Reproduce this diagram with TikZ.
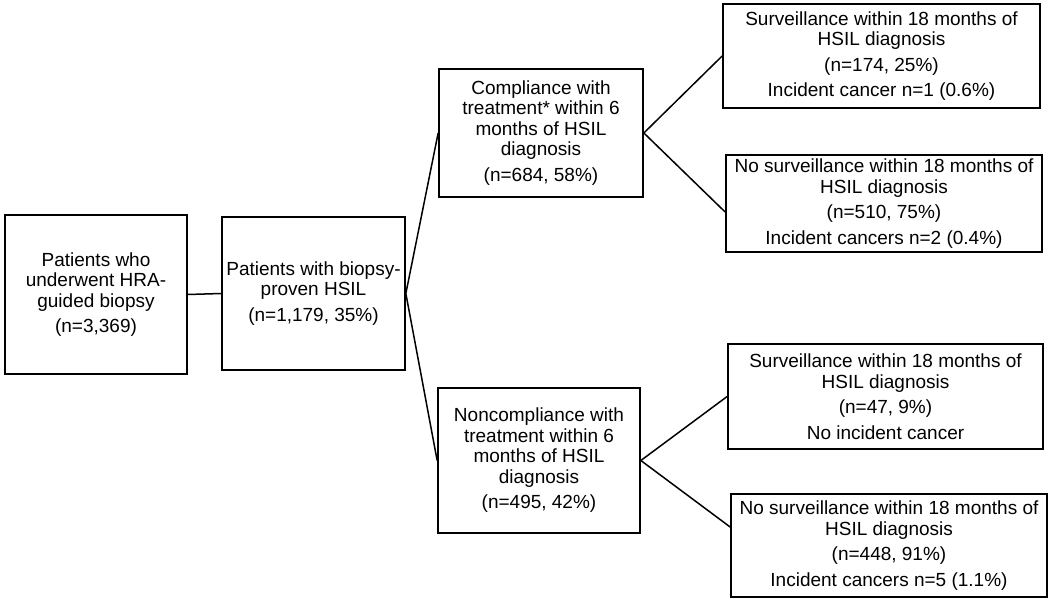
\documentclass[tikz,border=0pt]{standalone}
\usepackage{fontspec}
\setmainfont{Liberation Sans}
\begin{document}
\begin{tikzpicture}[x=1pt,y=-1pt,
  box/.style={draw=black, line width=1.7pt, fill=white, align=center, inner sep=0pt,
    font=\fontsize{19}{20.5}\selectfont},
  link/.style={draw=black, line width=1.5pt}]
\useasboundingbox (0,0) rectangle (1050,604);
\node[box, minimum width=182pt, minimum height=159pt] (A) at (96,294.5)
  {Patients who\\underwent HRA-\\guided biopsy\\[5pt](n=3,369)};
\node[box, minimum width=183pt, minimum height=153pt] (B) at (313.5,293.5)
  {Patients with biopsy-\\proven HSIL\\[5pt](n=1,179, 35\%)};
\node[box, minimum width=204pt, minimum height=128pt] (C) at (541,133)
  {Compliance with\\treatment* within 6\\months of HSIL\\diagnosis\\[5pt](n=684, 58\%)};
\node[box, minimum width=202pt, minimum height=145pt] (D) at (539,460.5)
  {Noncompliance with\\treatment within 6\\months of HSIL\\diagnosis\\[5pt](n=495, 42\%)};
\node[box, minimum width=317pt, minimum height=104pt] (E) at (881.5,56)
  {Surveillance within 18 months of\\HSIL diagnosis\\[5pt](n=174, 25\%)\\[5pt]Incident cancer n=1 (0.6\%)};
\node[box, minimum width=316pt, minimum height=97pt] (F) at (884,203.5)
  {No surveillance within 18 months of\\HSIL diagnosis\\[5pt](n=510, 75\%)\\[5pt]Incident cancers n=2 (0.4\%)};
\node[box, minimum width=315pt, minimum height=105pt] (G) at (885.5,396.5)
  {Surveillance within 18 months of\\HSIL diagnosis\\[5pt](n=47, 9\%)\\[5pt]No incident cancer};
\node[box, minimum width=316pt, minimum height=103pt] (H) at (889,545.5)
  {No surveillance within 18 months of\\HSIL diagnosis\\[5pt](n=448, 91\%)\\[5pt]Incident cancers n=5 (1.1\%)};
\draw[link] (A.east) -- (B.west);
\draw[link] (B.east) -- (C.west);
\draw[link] (B.east) -- (D.west);
\draw[link] (C.east) -- (E.west);
\draw[link] (C.east) -- ([yshift=-8.5pt]F.west);
\draw[link] (D.east) -- (G.west);
\draw[link] (D.east) -- ([yshift=18.5pt]H.west);
\end{tikzpicture}
\end{document}
